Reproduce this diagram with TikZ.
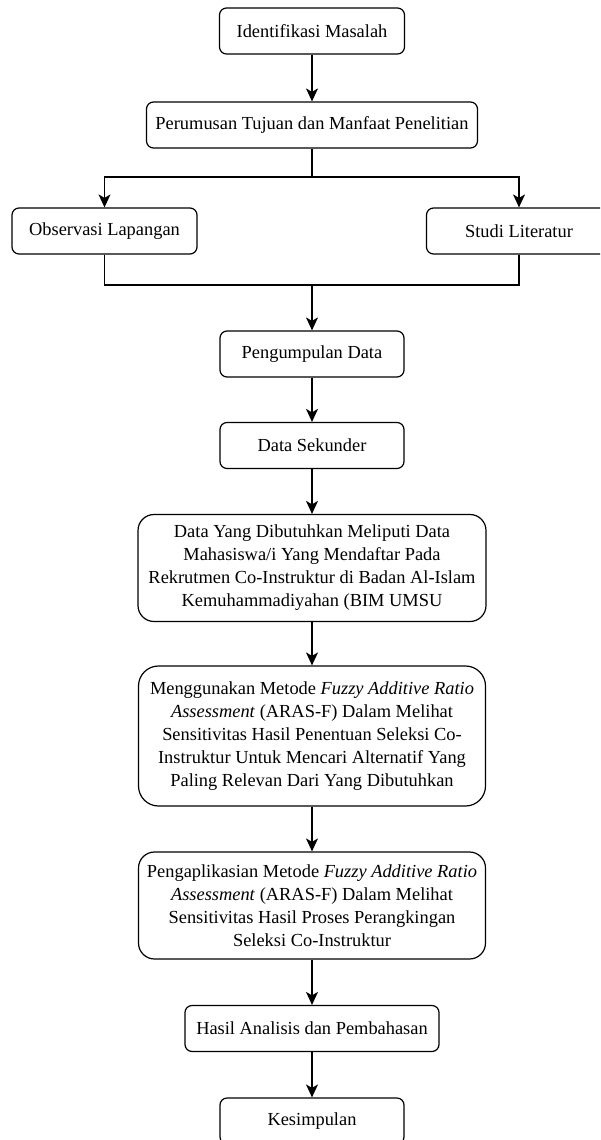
\documentclass[tikz,border=0pt]{standalone}
\usepackage{fontspec}
\setmainfont{Liberation Serif}
\usetikzlibrary{arrows.meta}
\begin{document}
\begin{tikzpicture}[x=1pt,y=-1pt,
  box/.style={draw, line width=1.2pt, rounded corners=7pt, align=center,
    inner sep=0pt, font=\fontsize{18.4}{23}\selectfont,
    minimum height=46pt},
  tallbox/.style={box, rounded corners=16pt, minimum height=107pt},
  arr/.style={-{Stealth[length=13pt,width=12pt,inset=3.5pt]}, line width=1.2pt},
  link/.style={line width=1.2pt}]
  \useasboundingbox (0,0) rectangle (600,1140);
  \clip (0,0) rectangle (600,1140);
  \fill[white] (0,0) rectangle (600,1140);

  % steps of the research flow
  \node[box, minimum width=185pt] (idm) at (312,31) {Identifikasi Masalah};
  \node[box, minimum width=331pt] (tuj) at (312,125) {Perumusan Tujuan dan Manfaat Penelitian};
  \node[box, minimum width=185pt] (obs) at (104.5,231) {Observasi Lapangan};
  \node[box, minimum width=185pt] (lit) at (519,231) {Studi Literatur};
  \node[box, minimum width=184pt] (pgd) at (312,354) {Pengumpulan Data};
  \node[box, minimum width=184pt] (sek) at (312,445.5) {Data Sekunder};
  \node[tallbox, minimum width=348pt] (dat) at (312,568)
    {Data Yang Dibutuhkan Meliputi Data\\
     Mahasiswa/i Yang Mendaftar Pada\\
     Rekrutmen Co-Instruktur di Badan Al-Islam\\
     Kemuhammadiyahan (BIM UMSU};
  \node[box, rounded corners=20pt, minimum height=140pt, minimum width=347pt] (met) at (312,736)
    {Menggunakan Metode \textit{Fuzzy Additive Ratio}\\
     \textit{Assessment} (ARAS-F) Dalam Melihat\\
     Sensitivitas Hasil Penentuan Seleksi Co-\\
     Instruktur Untuk Mencari Alternatif Yang\\
     Paling Relevan Dari Yang Dibutuhkan};
  \node[tallbox, minimum width=347pt] (apl) at (312,905.5)
    {Pengaplikasian Metode \textit{Fuzzy Additive Ratio}\\
     \textit{Assessment} (ARAS-F) Dalam Melihat\\
     Sensitivitas Hasil Proses Perangkingan\\
     Seleksi Co-Instruktur};
  \node[box, minimum width=254pt] (has) at (312,1028.5) {Hasil Analisis dan Pembahasan};
  \node[box, minimum width=184pt] (kes) at (312,1121) {Kesimpulan};

  % branch and merge points
  \coordinate (split) at (312,177);
  \coordinate (merge) at (312,285);

  % connectors
  \draw[arr] (idm) -- (tuj);
  \draw[link] (tuj.south) -- (split);
  \draw[arr] (split) -| (obs.north);
  \draw[arr] (split) -| (lit.north);
  \draw[link] (obs.south) |- (merge);
  \draw[link] (lit.south) |- (merge);
  \draw[arr] (merge) -- (pgd.north);
  \draw[arr] (pgd) -- (sek);
  \draw[arr] (sek) -- (dat);
  \draw[arr] (dat) -- (met);
  \draw[arr] (met) -- (apl);
  \draw[arr] (apl) -- (has);
  \draw[arr] (has) -- (kes);
\end{tikzpicture}
\end{document}
